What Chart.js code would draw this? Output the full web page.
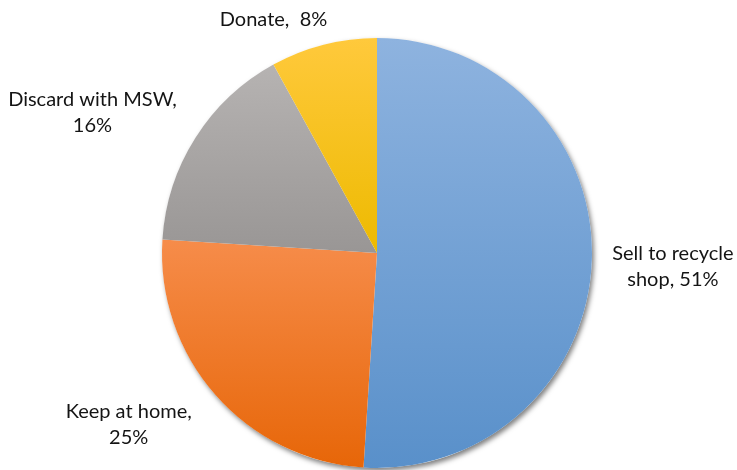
<!DOCTYPE html>
<html>
<head>
<meta charset="utf-8">
<title>Disposal of used items</title>
<script src="https://cdn.jsdelivr.net/npm/chart.js@4.4.1/dist/chart.umd.min.js"></script>
<style>
    html, body { margin: 0; padding: 0; background: #fff; }
    #wrap { width: 737px; height: 470px; }
</style>
</head>
<body>
<div id="wrap"><canvas id="pieChart" width="737" height="470"></canvas></div>
<script>
// Share of respondents by what they do with the item
const categories = ['Sell to recycle shop', 'Keep at home', 'Discard with MSW', 'Donate'];
const shares = [51, 25, 16, 8];

// Label text drawn beside each slice (one entry per line)
const labelLines = [
    ['Sell to recycle', 'shop, 51%'],
    ['Keep at home,', '25%'],
    ['Discard with MSW,', '16%'],
    ['Donate,  8%']
];

// Top / bottom colours of each slice's vertical gradient
const colorTop = ['#8eb3df', '#f68c4a', '#b6b3b2', '#ffc93c'];
const colorBottom = ['#5990ca', '#e76608', '#999695', '#edba00'];

// Label placement relative to the outer edge point at each slice's mid angle
const labelOffset = [[81, 7], [-87, 29], [-103, -25], [-50, -25]];

function sliceFill(c) {
    const i = c.dataIndex;
    const chart = c.chart;
    const area = chart.chartArea;
    if (!area || i === undefined) return colorTop[i] || colorTop[0];

    const cy = (area.top + area.bottom) / 2;
    const r = Math.min(area.right - area.left, area.bottom - area.top) / 2;
    const total = shares.reduce((a, b) => a + b, 0);
    let before = 0;
    for (let k = 0; k < i; k++) before += shares[k];
    const a0 = before / total * Math.PI * 2;
    const a1 = (before + shares[i]) / total * Math.PI * 2;

    // vertical extent of the sector (angles measured clockwise from 12 o'clock)
    const ys = [cy, cy - r * Math.cos(a0), cy - r * Math.cos(a1)];
    if (a0 <= 0.0001) ys.push(cy - r);
    if (a0 <= Math.PI && a1 >= Math.PI) ys.push(cy + r);
    const top = Math.min(...ys);
    const bottom = Math.max(...ys);

    const g = chart.ctx.createLinearGradient(0, top, 0, bottom);
    g.addColorStop(0, colorTop[i]);
    g.addColorStop(1, colorBottom[i]);
    return g;
}

// soft drop shadow under the whole pie
const pieShadow = {
    id: 'pieShadow',
    beforeDatasetsDraw(chart) {
        const arc = chart.getDatasetMeta(0).data[0];
        if (!arc) return;
        const ctx = chart.ctx;
        ctx.save();
        ctx.shadowColor = 'rgba(0, 0, 0, 0.5)';
        ctx.shadowBlur = 5;
        ctx.shadowOffsetX = 2;
        ctx.shadowOffsetY = 3;
        ctx.fillStyle = '#fff';
        ctx.beginPath();
        ctx.arc(arc.x, arc.y, arc.outerRadius, 0, Math.PI * 2);
        ctx.fill();
        ctx.restore();
    }
};

// category labels outside the slices
const outsideLabels = {
    id: 'outsideLabels',
    afterDatasetsDraw(chart) {
        const ctx = chart.ctx;
        const meta = chart.getDatasetMeta(0);
        ctx.save();
        ctx.font = '20px Lato, "Open Sans", sans-serif';
        ctx.fillStyle = '#141414';
        ctx.textAlign = 'center';
        ctx.textBaseline = 'middle';
        const lineH = 26;
        meta.data.forEach((arc, i) => {
            const mid = (arc.startAngle + arc.endAngle) / 2;
            const x = arc.x + Math.cos(mid) * arc.outerRadius + labelOffset[i][0];
            const y = arc.y + Math.sin(mid) * arc.outerRadius + labelOffset[i][1];
            const lines = labelLines[i];
            const y0 = y - (lines.length - 1) * lineH / 2;
            lines.forEach((t, j) => ctx.fillText(t, x, y0 + j * lineH));
        });
        ctx.restore();
    }
};

new Chart(document.getElementById('pieChart'), {
    type: 'pie',
    data: {
        labels: categories,
        datasets: [{
            data: shares,
            backgroundColor: sliceFill,
            borderWidth: 0
        }]
    },
    options: {
        responsive: false,
        animation: false,
        layout: {
            padding: { left: 17, right: 0, top: 38, bottom: 2 }
        },
        plugins: {
            legend: { display: false },
            tooltip: { enabled: false }
        }
    },
    plugins: [pieShadow, outsideLabels]
});
</script>
</body>
</html>
